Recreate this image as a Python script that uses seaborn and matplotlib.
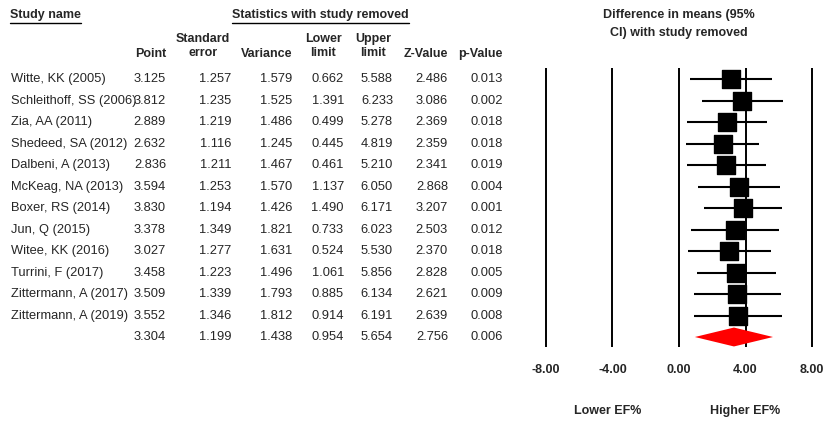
import numpy as np
import pandas as pd
import seaborn as sns
import matplotlib.pyplot as plt
from matplotlib.lines import Line2D
from matplotlib import transforms

studies = ["Witte, KK (2005)", "Schleithoff, SS (2006)", "Zia, AA (2011)",
           "Shedeed, SA (2012)", "Dalbeni, A (2013)", "McKeag, NA (2013)",
           "Boxer, RS (2014)", "Jun, Q (2015)", "Witee, KK (2016)",
           "Turrini, F (2017)", "Zittermann, A (2017)", "Zittermann, A (2019)"]
point = [3.125, 3.812, 2.889, 2.632, 2.836, 3.594, 3.830, 3.378, 3.027, 3.458, 3.509, 3.552]
std_err = [1.257, 1.235, 1.219, 1.116, 1.211, 1.253, 1.194, 1.349, 1.277, 1.223, 1.339, 1.346]
variance = [1.579, 1.525, 1.486, 1.245, 1.467, 1.570, 1.426, 1.821, 1.631, 1.496, 1.793, 1.812]
lower = [0.662, 1.391, 0.499, 0.445, 0.461, 1.137, 1.490, 0.733, 0.524, 1.061, 0.885, 0.914]
upper = [5.588, 6.233, 5.278, 4.819, 5.210, 6.050, 6.171, 6.023, 5.530, 5.856, 6.134, 6.191]
z_value = [2.486, 3.086, 2.369, 2.359, 2.341, 2.868, 3.207, 2.503, 2.370, 2.828, 2.621, 2.639]
p_value = [0.013, 0.002, 0.018, 0.018, 0.019, 0.004, 0.001, 0.012, 0.018, 0.005, 0.009, 0.008]

summary = {"point": 3.304, "se": 1.199, "var": 1.438, "lower": 0.954,
           "upper": 5.654, "z": 2.756, "p": 0.006}

ticks = [-8, -4, 0, 4, 8]

df = pd.DataFrame({"study": studies, "point": point, "se": std_err, "var": variance,
                   "lower": lower, "upper": upper, "z": z_value, "p": p_value})
df["row"] = np.arange(len(df))

sns.set_style("white")
plt.rcParams["font.family"] = ["Liberation Sans", "DejaVu Sans"]

W, H = 825, 425
fig = plt.figure(figsize=(W / 100, H / 100), dpi=100)

# forest plot panel (pixel geometry of the reference)
ax = fig.add_axes([536 / W, 1 - 347 / H, (822 - 536) / W, (347 - 68) / H])
ax.set_xlim(-8.6, 8.6)
ax.set_ylim(12.465, -0.512)
for t in ticks:
    ax.axvline(t, color="black", lw=1.4, zorder=1)

ax.hlines(df["row"], df["lower"], df["upper"], color="black", lw=1.5, zorder=2)
sns.scatterplot(data=df, x="point", y="row", marker="s", s=150, color="black",
                edgecolor="black", legend=False, ax=ax, zorder=3)

srow = len(df)
ax.fill([summary["lower"], summary["point"], summary["upper"], summary["point"]],
        [srow, srow - 0.44, srow, srow + 0.44], color="red", lw=0, zorder=3)

ax.set_xticks(ticks)
ax.set_xticklabels([f"{t:.2f}" for t in ticks], fontweight="bold", fontsize=9)
ax.tick_params(axis="x", length=0, pad=12)
ax.set_yticks([])
ax.set_xlabel("")
ax.set_ylabel("")
for sp in ax.spines.values():
    sp.set_visible(False)

# table text
tr = transforms.blended_transform_factory(fig.transFigure, ax.transData)
fs = 9.3
cols = ["point", "se", "var", "lower", "upper", "z", "p"]
col_x = [166, 231, 292, 344, 393, 448, 503]
for _, r in df.iterrows():
    fig.text(11 / W, r["row"], r["study"], transform=tr, fontsize=fs, va="center", ha="left")
    for c, x in zip(cols, col_x):
        fig.text(x / W, r["row"], f"{r[c]:.3f}", transform=tr, fontsize=fs,
                 va="center", ha="right")
for c, x in zip(cols, col_x):
    fig.text(x / W, srow, f"{summary[c]:.3f}", transform=tr, fontsize=fs,
             va="center", ha="right")

# headers
def ftext(x, y, s, size=9, **kw):
    fig.text(x / W, 1 - y / H, s, fontsize=size, fontweight="bold", **kw)

ftext(10, 15, "Study name", ha="left", va="center")
ftext(320, 15, "Statistics with study removed", ha="center", va="center")
fig.add_artist(Line2D([10 / W, 81 / W], [1 - 23 / H, 1 - 23 / H], color="black", lw=1))
fig.add_artist(Line2D([232 / W, 409 / W], [1 - 23 / H, 1 - 23 / H], color="black", lw=1))

two = dict(va="center", multialignment="center", linespacing=1.2)
ftext(166, 54, "Point", ha="right", va="center")
ftext(203, 46, "Standard\nerror", ha="center", **two)
ftext(292, 54, "Variance", ha="right", va="center")
ftext(323, 46, "Lower\nlimit", ha="center", **two)
ftext(373, 46, "Upper\nlimit", ha="center", **two)
ftext(448, 54, "Z-Value", ha="right", va="center")
ftext(503, 54, "p-Value", ha="right", va="center")

ftext(679, 24, "Difference in means (95%\nCI) with study removed", ha="center", va="center",
      multialignment="center", linespacing=1.65)

ftext(608, 411, "Lower EF%", ha="center", va="center")
ftext(745, 411, "Higher EF%", ha="center", va="center")

fig.savefig("out.png", dpi=100)
